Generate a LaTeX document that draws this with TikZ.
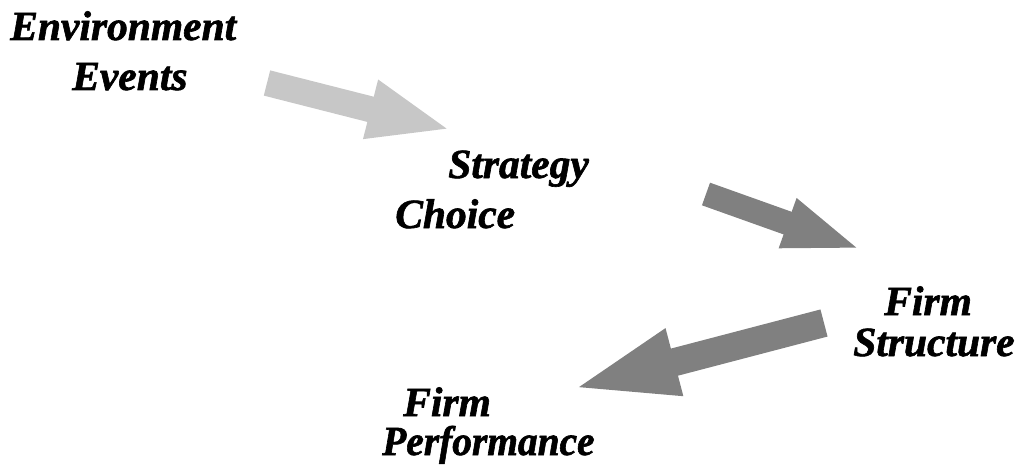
\documentclass[tikz,border=0pt]{standalone}
\usepackage{fontspec}
\setmainfont{Liberation Serif}[BoldItalicFeatures={FakeBold=1.5}]
\usetikzlibrary{arrows.meta}
\begin{document}
\begin{tikzpicture}[x=0.025cm, y=-0.025cm,
  lbl/.style={anchor=base west, inner sep=0pt, font=\fontsize{29.5}{36}\selectfont\bfseries\itshape},
  fat/.style={line width=0.65cm, -{Triangle[length=2.1cm, width=1.35cm]}}]
\useasboundingbox (0,0) rectangle (1021,473);
% labels, one node per line
\node[lbl] (env1) at (10,40) {Environment};
\node[lbl] (env2) at (72,90) {Events};
\node[lbl] (str1) at (448,178) {Strategy};
\node[lbl] (str2) at (395,228) {Choice};
\node[lbl] (fs1) at (884,315) {Firm};
\node[lbl] (fs2) at (853,356) {Structure};
\node[lbl] (fp1) at (403,416) {Firm};
\node[lbl, xscale=0.95] (fp2) at (382,455) {Performance};
% arrow ends
\coordinate (a1) at (267,83);
\coordinate (b1) at (452,130);
\coordinate (a2) at (706,194);
\coordinate (b2) at (863,250);
\coordinate (a3) at (824,323);
\coordinate (b3) at (568,390);
\draw[fat, black!22] (a1)--(b1);
\draw[fat, black!50, line width=0.6cm, -{Triangle[length=2cm, width=1.15cm]}] (a2)--(b2);
\draw[fat, black!50, line width=0.7cm, -{Triangle[length=2.75cm, width=1.5cm]}] (a3)--(b3);
\end{tikzpicture}
\end{document}
